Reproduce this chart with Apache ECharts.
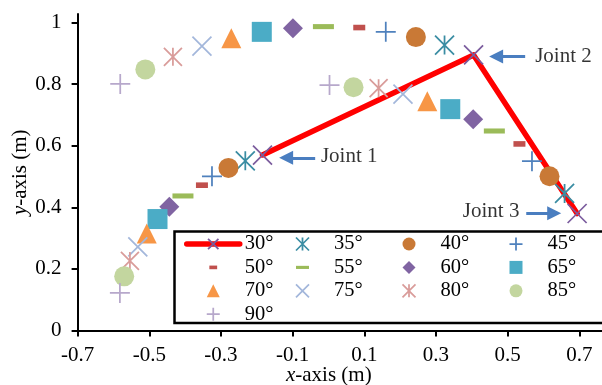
<!DOCTYPE html>
<html><head><meta charset="utf-8">
<script src="https://cdn.jsdelivr.net/npm/echarts@6/dist/echarts.min.js"></script>
<style>html,body{margin:0;padding:0;background:#fff}#c{width:602px;height:385px}</style>
</head><body><div id="c"></div>
<script>
// ---------- data ----------
const angles = ['30°','35°','40°','45°','50°','55°','60°','65°','70°','75°','80°','85°','90°'];
const joint1X = [-0.184,-0.232,-0.279,-0.325,-0.353,-0.406,-0.444,-0.477,-0.507,-0.532,-0.554,-0.570,-0.582];
const joint1Y = [0.570,0.551,0.528,0.501,0.472,0.437,0.402,0.362,0.315,0.272,0.226,0.176,0.122];
const joint2X = [0.405,0.324,0.244,0.160,0.086,-0.014,-0.099,-0.186,-0.271,-0.353,-0.434,-0.511,-0.581];
const joint2Y = [0.895,0.927,0.953,0.970,0.984,0.987,0.982,0.970,0.949,0.924,0.889,0.848,0.801];
const joint3X = [0.694,0.659,0.617,0.568,0.533,0.463,0.404,0.340,0.276,0.208,0.140,0.070,0.003];
const joint3Y = [0.380,0.445,0.501,0.550,0.606,0.648,0.686,0.719,0.745,0.768,0.787,0.790,0.797];
const xTicks = [-0.7,-0.5,-0.3,-0.1,0.1,0.3,0.5,0.7];
const yTicks = [0,0.2,0.4,0.6,0.8,1];
const jointNames = ['Joint 1','Joint 2','Joint 3'];
const jointLabelX = [-0.021,0.577,0.375];
const jointLabelY = [0.564,0.890,0.386];
const arrowFromX = [-0.037,0.549,0.552];
const arrowFromY = [0.561,0.890,0.381];
const arrowToX = [-0.118,0.468,0.630];
const arrowToY = [0.561,0.890,0.381];

// ---------- styles ----------
const FONT = "'Liberation Serif','Times New Roman',serif";
const P_PLUS = 'path://M50,0L50,100M0,50L100,50';
const P_CROSS = 'path://M0,0L100,100M100,0L0,100';
const P_STAR = 'path://M0,0L100,100M100,0L0,100M50,0L50,100';
const P_DASH_S = 'path://M0,0M100,100M20,36h60v28h-60z';
const P_DASH_L = 'path://M0,0M100,100M0,38h100v24h-100z';
const P_DIAMOND = 'path://M50,0L100,50L50,100L0,50z';
const P_SQUARE = 'path://M0,0h100v100h-100z';
const P_TRIANGLE = 'path://M50,0L100,100L0,100z';
const symbols = [P_CROSS,P_STAR,'circle',P_PLUS,P_DASH_S,P_DASH_L,P_DIAMOND,P_SQUARE,P_TRIANGLE,P_CROSS,P_STAR,'circle',P_PLUS];
const strokeOnly = [true,true,false,true,false,false,false,false,false,true,true,false,true];
const colors = ['#7B5C9E','#3A8DA3','#C97936','#4F81BD','#C0504D','#9BBB59','#8064A2','#4BACC6','#F79646','#A3B7DB','#D99C9A','#C3D69F','#B7A8CB'];
const sizes = [19,19,20,20,20,21,20,20,20,19,18,20,20];

function markerStyle(i) {
  return strokeOnly[i]
    ? {color: 'none', borderColor: colors[i], borderWidth: 1.75, opacity: 1}
    : {color: colors[i], borderWidth: 0, opacity: 1};
}

const series = angles.map((a, i) => {
  const pts = [[joint1X[i], joint1Y[i]], [joint2X[i], joint2Y[i]], [joint3X[i], joint3Y[i]]];
  const s = {
    name: a, data: pts, symbol: symbols[i], symbolSize: sizes[i],
    itemStyle: markerStyle(i), emphasis: {disabled: true}, z: 3, animation: false
  };
  if (i === 0) {
    s.type = 'line';
    s.lineStyle = {color: '#FF0000', width: 5.5, cap: 'round', join: 'round', opacity: 1};
    s.z = 2;
  } else {
    s.type = 'scatter';
  }
  return s;
});

series.push({
  name: 'annotations', type: 'scatter', silent: true, z: 5, animation: false,
  symbolSize: 0,
  data: jointNames.map((n, k) => ({name: n, value: [jointLabelX[k], jointLabelY[k]]})),
  label: {show: true, position: 'right', distance: 0, formatter: '{b}',
          fontFamily: FONT, fontSize: 21, color: '#000'},
  markLine: {
    silent: true, animation: false,
    symbol: ['none', 'triangle'], symbolSize: 14,
    label: {show: false},
    lineStyle: {color: '#4A7EC0', width: 3, type: 'solid', opacity: 1},
    emphasis: {disabled: true},
    data: jointNames.map((n, k) => [
      {coord: [arrowFromX[k], arrowFromY[k]]},
      {coord: [arrowToX[k], arrowToY[k]]}
    ])
  }
});

const legendLefts = [184, 293.5, 400, 507];
const legends = legendLefts.map((left, c) => ({
  orient: 'vertical', left: left, top: 233.5, padding: 0,
  itemWidth: 53, itemHeight: 13, itemGap: 2.4,
  selectedMode: false,
  textStyle: {fontFamily: FONT, fontSize: 20.5, color: '#000', lineHeight: 20},
  data: angles.map((a, i) => ({a, i})).filter(o => o.i % 4 === c).map(o => {
    const d = {name: o.a, itemStyle: markerStyle(o.i)};
    if (o.i === 0) d.lineStyle = {color: '#FF0000', width: 5.5, cap: 'round', opacity: 1};
    return d;
  })
}));

const axisCommon = {
  axisLine: {show: true, onZero: false, lineStyle: {color: '#000', width: 2}},
  axisTick: {show: true, length: 6, lineStyle: {color: '#000', width: 2}},
  splitLine: {show: false},
  nameLocation: 'middle',
  nameMoveOverlap: false,
  nameTextStyle: {fontFamily: FONT, fontSize: 21, color: '#000',
    rich: {i: {fontFamily: FONT, fontSize: 21, fontStyle: 'italic', color: '#000'}}}
};

const option = {
  animation: false,
  backgroundColor: '#fff',
  grid: {left: 77.6, right: -2, top: 14, bottom: 54.5, containLabel: false, outerBoundsMode: 'none'},
  xAxis: Object.assign({}, axisCommon, {
    type: 'value', min: -0.7, max: 0.769,
    name: '{i|x}-axis (m)', nameGap: 34,
    nameTextStyle: Object.assign({}, axisCommon.nameTextStyle, {padding: [0, 24, 0, 0]}),
    axisTick: Object.assign({}, axisCommon.axisTick, {customValues: xTicks}),
    axisLabel: {customValues: xTicks, margin: 14, fontFamily: FONT, fontSize: 21, color: '#000'}
  }),
  yAxis: Object.assign({}, axisCommon, {
    type: 'value', min: 0, max: 1.028,
    name: '{i|y}-axis (m)', nameGap: 47,
    axisTick: Object.assign({}, axisCommon.axisTick, {customValues: yTicks}),
    axisLabel: {customValues: yTicks, margin: 16, fontFamily: FONT, fontSize: 21, color: '#000'}
  }),
  legend: legends,
  graphic: [{type: 'rect', z: 1, silent: true,
    shape: {x: 174.5, y: 231.5, width: 440, height: 91.5},
    style: {fill: '#fff', stroke: '#000', lineWidth: 2.5}}],
  series
};

const chart = echarts.init(document.getElementById('c'), null, {renderer: 'canvas'});
chart.setOption(option);
</script>
</body></html>
